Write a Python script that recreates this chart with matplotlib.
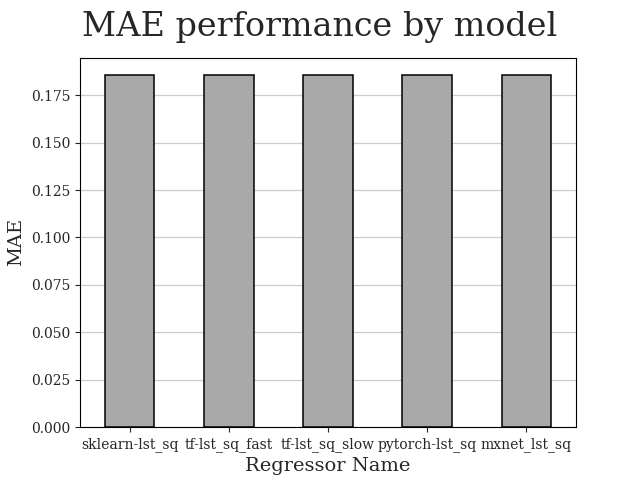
import matplotlib
matplotlib.use('Agg')
import matplotlib.pyplot as plt
import numpy as np

# model names and their MAE scores
modeller = ['sklearn-lst_sq', 'tf-lst_sq_fast', 'tf-lst_sq_slow', 'pytorch-lst_sq', 'mxnet_lst_sq']
mae = [0.1855, 0.1855, 0.1855, 0.1855, 0.1855]

plt.rcParams['font.family'] = 'DejaVu Serif'
plt.rcParams['text.color'] = '#262626'
plt.rcParams['axes.labelcolor'] = '#262626'
plt.rcParams['xtick.color'] = '#262626'
plt.rcParams['ytick.color'] = '#262626'

fig = plt.figure(figsize=(6.4, 4.8), dpi=100)
ax = fig.add_subplot(111)

x = np.arange(len(modeller))
ax.bar(x, mae, width=0.5, color='#a9a9a9', edgecolor='black', linewidth=1.1, zorder=3)
ax.set_xlim(-0.5, len(modeller) - 0.5)
ax.set_xticks(x)
ax.set_xticklabels(modeller, rotation=0)
ax.yaxis.grid(True, color='#cccccc', linewidth=0.9, zorder=0)
ax.set_axisbelow(True)

ax.set_xlabel('Regressor Name', fontsize=14)
ax.set_ylabel('MAE', fontsize=14)
fig.suptitle('MAE performance by model', fontsize=24, y=0.978)

fig.savefig('out.png', dpi=100)
